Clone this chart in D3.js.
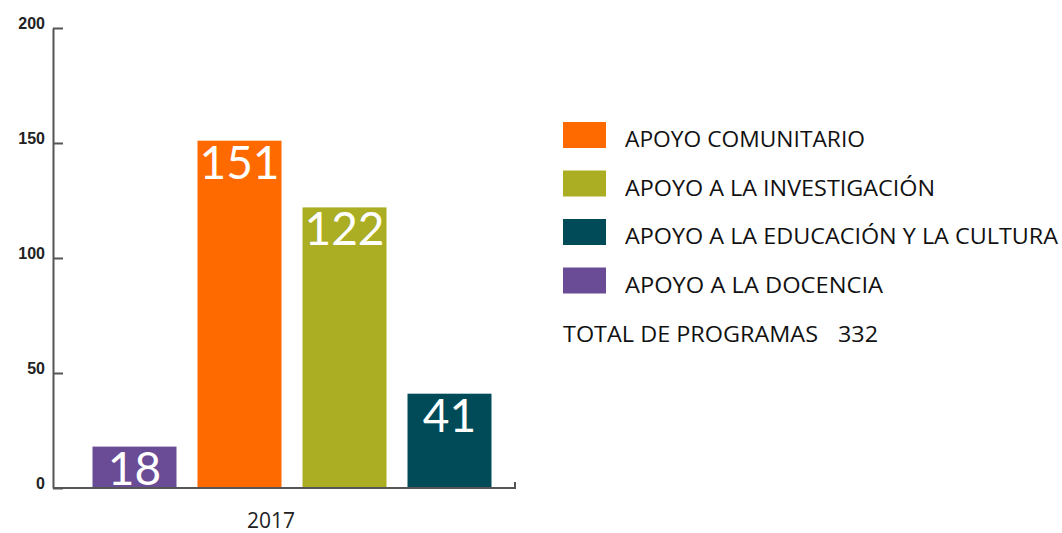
<!DOCTYPE html>
<html>
<head>
<meta charset="utf-8">
<script src="https://cdn.jsdelivr.net/npm/d3@7"></script>
<style>
  body { margin: 0; background: #fff; }
  svg { display: block; font-family: 'Open Sans', sans-serif; }
  .axis path, .axis line { stroke: #555; stroke-width: 2; }
  .axis text { font-size: 16px; font-weight: 700; fill: #222; }
</style>
</head>
<body>
<svg id="chart"></svg>
<script>
// data
const year = '2017'
const categories = ['APOYO A LA DOCENCIA', 'APOYO COMUNITARIO', 'APOYO A LA INVESTIGACIÓN', 'APOYO A LA EDUCACIÓN Y LA CULTURA']
const values = [18, 151, 122, 41]
const colors = ['#6a4c96', '#ff6a00', '#abad23', '#004b57']
const legendOrder = ['APOYO COMUNITARIO', 'APOYO A LA INVESTIGACIÓN', 'APOYO A LA EDUCACIÓN Y LA CULTURA', 'APOYO A LA DOCENCIA']
const yTicks = [0, 50, 100, 150, 200]
const totalLabel = 'TOTAL DE PROGRAMAS'
const total = 332

const width = 1062
const height = 533

const svg = d3.select('#chart')
  .attr('width', width)
  .attr('height', height)

const yScale = d3.scaleLinear()
  .domain([0, 200])
  .range([488, 28])

const xScale = d3.scaleBand()
  .domain(categories)
  .range([82, 502])
  .paddingInner(0.2)
  .paddingOuter(0.1)

const color = d3.scaleOrdinal()
  .domain(categories)
  .range(colors)

// y axis, ticks pointing inward
const yAxis = d3.axisRight(yScale)
  .tickValues(yTicks)
  .tickSize(10)
  .tickSizeOuter(0)
  .tickFormat(d3.format('d'))

const gy = svg.append('g')
  .attr('class', 'y axis')
  .attr('transform', 'translate(53, 0)')
  .call(yAxis)

gy.selectAll('text')
  .attr('x', -8)
  .attr('dy', '0.02em')
  .attr('text-anchor', 'end')

// x axis baseline
svg.append('path')
  .attr('class', 'axis')
  .attr('d', `M53,${yScale(0)}H515V${yScale(0) - 6}`)
  .attr('fill', 'none')
  .attr('stroke', '#555')
  .attr('stroke-width', 2)

// bars
const data = categories.map((c, i) => ({ cat: c, value: values[i] }))

svg.selectAll('.bar')
  .data(data)
  .enter()
  .append('rect')
  .attr('class', 'bar')
  .attr('x', d => xScale(d.cat))
  .attr('y', d => yScale(d.value))
  .attr('width', xScale.bandwidth())
  .attr('height', d => yScale(0) - yScale(d.value) - 1)
  .attr('fill', d => color(d.cat))

svg.selectAll('.bar-label')
  .data(data)
  .enter()
  .append('text')
  .attr('class', 'bar-label')
  .attr('x', d => xScale(d.cat) + xScale.bandwidth() / 2)
  .attr('y', d => yScale(d.value) + 38)
  .attr('text-anchor', 'middle')
  .attr('fill', '#fff')
  .attr('font-family', 'Lato, sans-serif')
  .attr('font-size', 46)
  .text(d => d.value)

// year label
svg.append('text')
  .attr('x', 271)
  .attr('y', 528)
  .attr('text-anchor', 'middle')
  .attr('font-size', 21)
  .attr('fill', '#222')
  .text(year)

// legend
const legendWidths = [240, 310, 433, 258]
const legend = svg.append('g')
  .attr('transform', 'translate(563, 122)')

const items = legend.selectAll('.item')
  .data(legendOrder)
  .enter()
  .append('g')
  .attr('class', 'item')
  .attr('transform', (d, i) => `translate(0, ${i * 48.5})`)

items.append('rect')
  .attr('width', 43)
  .attr('height', 26)
  .attr('fill', d => color(d))

items.append('text')
  .attr('x', 62)
  .attr('y', 25)
  .attr('font-size', 22)
  .attr('fill', '#111')
  .attr('textLength', (d, i) => legendWidths[i])
  .attr('lengthAdjust', 'spacingAndGlyphs')
  .text(d => d)

legend.append('text')
  .attr('x', 0)
  .attr('y', 220)
  .attr('font-size', 22)
  .attr('fill', '#111')
  .attr('textLength', 255)
  .attr('lengthAdjust', 'spacingAndGlyphs')
  .text(totalLabel)

legend.append('text')
  .attr('x', 275)
  .attr('y', 220)
  .attr('font-size', 22)
  .attr('fill', '#111')
  .attr('textLength', 40)
  .attr('lengthAdjust', 'spacingAndGlyphs')
  .text(total)
</script>
</body>
</html>
